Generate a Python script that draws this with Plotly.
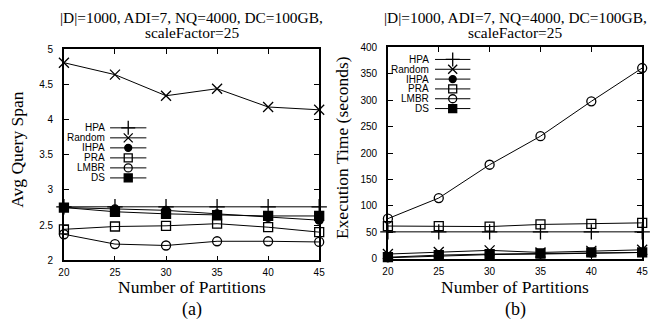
import plotly.graph_objects as go

W, H = 658, 325

partitions = [20, 25, 30, 35, 40, 45]
series_names = ["HPA", "Random", "IHPA", "PRA", "LMBR", "DS"]

span_hpa = [2.76, 2.76, 2.76, 2.76, 2.76, 2.76]
span_random = [4.81, 4.64, 4.34, 4.44, 4.18, 4.14]
span_ihpa = [2.75, 2.73, 2.71, 2.66, 2.61, 2.57]
span_pra = [2.44, 2.48, 2.49, 2.52, 2.47, 2.40]
span_lmbr = [2.37, 2.23, 2.21, 2.27, 2.27, 2.26]
span_ds = [2.75, 2.69, 2.66, 2.64, 2.63, 2.63]

time_hpa = [51, 51, 51, 51, 51, 51]
time_random = [9, 13, 16, 12, 15, 17]
time_ihpa = [2, 5, 8, 9, 11, 12]
time_pra = [62, 62, 61, 65, 66, 68]
time_lmbr = [76, 115, 178, 232, 298, 361]
time_ds = [3, 7, 9, 10, 12, 12]

span_ticks = [2, 2.5, 3, 3.5, 4, 4.5, 5]
span_tick_labels = ["2", "2.5", "3", "3.5", "4", "4.5", "5"]
time_ticks = [0, 50, 100, 150, 200, 250, 300, 350, 400]
time_tick_labels = [str(v) for v in time_ticks]

title_line1 = "|D|=1000, ADI=7, NQ=4000, DC=100GB,"
title_line2 = "scaleFactor=25"

SERIF = "Liberation Serif, Times New Roman, serif"
SANS = "Liberation Sans, Arial, sans-serif"

styles = {
    "HPA": dict(symbol="cross-thin-open", size=11),
    "Random": dict(symbol="x-thin-open", size=10),
    "IHPA": dict(symbol="circle", size=8),
    "PRA": dict(symbol="square-open", size=9),
    "LMBR": dict(symbol="circle-open", size=9),
    "DS": dict(symbol="square", size=9),
}

span_data = dict(zip(series_names, [span_hpa, span_random, span_ihpa, span_pra, span_lmbr, span_ds]))
time_data = dict(zip(series_names, [time_hpa, time_random, time_ihpa, time_pra, time_lmbr, time_ds]))


def fx(px):
    return px / W


def fy(py):
    return 1 - py / H


fig = go.Figure()

for xa, ya, data in [("x", "y", span_data), ("x2", "y2", time_data)]:
    for name in series_names:
        st = styles[name]
        fig.add_trace(go.Scatter(
            x=partitions, y=data[name], xaxis=xa, yaxis=ya, name=name,
            mode="lines+markers", showlegend=False, cliponaxis=False,
            line=dict(color="black", width=1),
            marker=dict(symbol=st["symbol"], size=st["size"], color="black",
                        line=dict(color="black", width=1.3)),
        ))

# custom legends: label text sits left of the key, as in the reference
legend_layouts = [
    dict(text_right=103, x0=106, x1=143, y_first=126.5, step=10.4),
    dict(text_right=433, x0=437, x1=473, y_first=55.5, step=10.2),
]
annotations = []
for lg in legend_layouts:
    for i, name in enumerate(series_names):
        yy = lg["y_first"] + i * lg["step"]
        st = styles[name]
        fig.add_trace(go.Scatter(
            x=[lg["x0"], lg["x1"]], y=[yy, yy], xaxis="x3", yaxis="y3",
            mode="lines", showlegend=False, hoverinfo="skip",
            line=dict(color="black", width=1)))
        fig.add_trace(go.Scatter(
            x=[(lg["x0"] + lg["x1"]) / 2], y=[yy], xaxis="x3", yaxis="y3",
            mode="markers", showlegend=False, hoverinfo="skip", cliponaxis=False,
            marker=dict(symbol=st["symbol"], size=st["size"] - 1, color="black",
                        line=dict(color="black", width=1.3))))
        annotations.append(dict(
            x=fx(lg["text_right"]), y=fy(yy), xref="paper", yref="paper",
            text=name, showarrow=False, xanchor="right", yanchor="middle",
            font=dict(family=SANS, size=10, color="black")))

panels = [
    dict(left=59, right=319, top=45, bottom=264, ylabel="Avg Query Span", tag="(a)", ylx=11),
    dict(left=389, right=648, top=43, bottom=262.5, ylabel="Execution Time (seconds)", tag="(b)", ylx=343),
]
for p in panels:
    cx = (p["left"] + p["right"]) / 2
    cy = (p["top"] + p["bottom"]) / 2
    annotations += [
        dict(x=fx(cx), y=fy(12), text=title_line1, size=15.4),
        dict(x=fx(cx), y=fy(27), text=title_line2, size=15.4),
        dict(x=fx(cx), y=fy(292), text="Number of Partitions", size=17.5),
        dict(x=fx(cx), y=fy(315), text=p["tag"], size=18),
        dict(x=fx(p["ylx"]), y=fy(cy - 6), text=p["ylabel"], size=17.5, textangle=-90),
    ]

final_ann = []
for a in annotations:
    if "font" in a:
        final_ann.append(a)
        continue
    size = a.pop("size", 16)
    a.update(xref="paper", yref="paper", showarrow=False, xanchor="center",
             yanchor="middle", font=dict(family=SERIF, size=size, color="black"))
    final_ann.append(a)

axis_common = dict(
    showline=True, linecolor="black", linewidth=1.5, mirror="ticks",
    ticks="inside", ticklen=5, tickwidth=1, tickcolor="black",
    showgrid=False, zeroline=False,
    tickfont=dict(family=SANS, size=10, color="black"),
)

fig.update_layout(
    width=W, height=H, margin=dict(l=0, r=0, t=0, b=0),
    paper_bgcolor="white", plot_bgcolor="rgba(0,0,0,0)", showlegend=False,
    annotations=final_ann,
    xaxis=dict(domain=[fx(59), fx(319)], range=[20, 45], tickvals=partitions,
               ticktext=[str(v) for v in partitions], anchor="y",
               ticklabelstandoff=2, **axis_common),
    yaxis=dict(domain=[fy(264), fy(45)], range=[2, 5], tickvals=span_ticks,
               ticktext=span_tick_labels, anchor="x", ticklabelstandoff=7, **axis_common),
    xaxis2=dict(domain=[fx(389), fx(648)], range=[20, 45], tickvals=partitions,
                ticktext=[str(v) for v in partitions], anchor="y2",
                ticklabelstandoff=2, **axis_common),
    yaxis2=dict(domain=[fy(262.5), fy(43)], range=[0, 400], tickvals=time_ticks,
                ticktext=time_tick_labels, anchor="x2", ticklabelstandoff=7, **axis_common),
    xaxis3=dict(domain=[0, 1], range=[0, W], visible=False, fixedrange=True, anchor="y3"),
    yaxis3=dict(domain=[0, 1], range=[H, 0], visible=False, fixedrange=True, anchor="x3"),
)

fig.write_html("out.html", config={"displayModeBar": False},
               post_script="document.body.style.margin='0';document.body.style.padding='0';")
